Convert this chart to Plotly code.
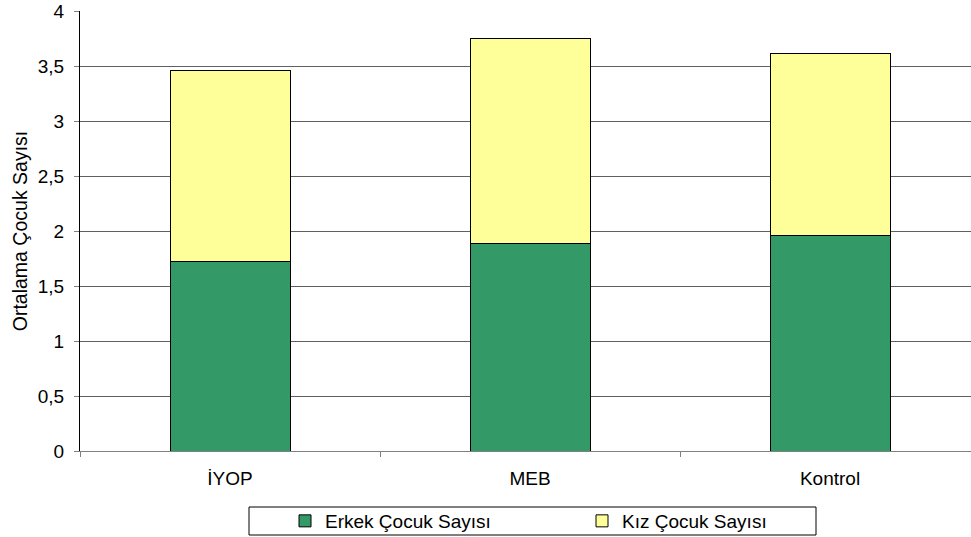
import plotly.graph_objects as go

categories = ["İYOP", "MEB", "Kontrol"]
erkek = [1.72, 1.89, 1.96]
kiz = [1.74, 1.86, 1.65]
series_names = ["Erkek Çocuk Sayısı", "Kız Çocuk Sayısı"]
y_ticks = [0, 0.5, 1, 1.5, 2, 2.5, 3, 3.5, 4]

FONT = "Liberation Sans, Arial, sans-serif"
W, H = 971, 537
L, R, T, B = 80, 0, 11, 86
PW, PH = W - L - R, H - T - B


def px_x(p):
    return (p - L) / PW


def px_y(p):
    return (H - B - p) / PH


fig = go.Figure()
fig.add_trace(go.Bar(x=categories, y=erkek, name=series_names[0],
                     marker=dict(color="#339966", line=dict(color="black", width=1))))
fig.add_trace(go.Bar(x=categories, y=kiz, name=series_names[1],
                     marker=dict(color="#FFFF99", line=dict(color="black", width=1))))

# legend frame
fig.add_shape(type="rect", xref="paper", yref="paper",
              x0=px_x(249), x1=px_x(816), y0=px_y(535), y1=px_y(507),
              line=dict(color="black", width=1), fillcolor="rgba(0,0,0,0)")

fig.update_layout(
    width=W, height=H,
    margin=dict(l=L, r=R, t=T, b=B, autoexpand=False),
    barmode="stack", bargap=0.6,
    separators=", ",
    plot_bgcolor="white", paper_bgcolor="white",
    font=dict(family=FONT, size=19, color="black"),
    showlegend=True,
    legend=dict(orientation="h", x=px_x(285), xanchor="left",
                y=px_y(521), yanchor="middle",
                borderwidth=0, bgcolor="rgba(0,0,0,0)",
                font=dict(size=19), entrywidth=252, entrywidthmode="pixels",
                itemwidth=30, traceorder="normal"),
    xaxis=dict(range=[-0.5, 2.47], showline=True, linecolor="#808080", linewidth=1,
               ticks="outside", tickson="boundaries", ticklen=5, tickcolor="#808080",
               showgrid=False, ticklabelstandoff=10, automargin=False),
    yaxis=dict(range=[0, 4], tickvals=y_ticks, showline=True, linecolor="black",
               linewidth=1, ticks="outside", ticklen=5, tickcolor="#808080",
               showgrid=True, gridcolor="#606060", gridwidth=1, zeroline=False,
               title=dict(text="Ortalama Çocuk Sayısı", standoff=4,
                          font=dict(family=FONT, size=19.5, color="black")),
               ticklabelstandoff=6, automargin=False),
)

fig.write_html("out.html", config={"displayModeBar": False},
               post_script="document.body.style.margin='0';document.body.style.overflow='hidden';")
